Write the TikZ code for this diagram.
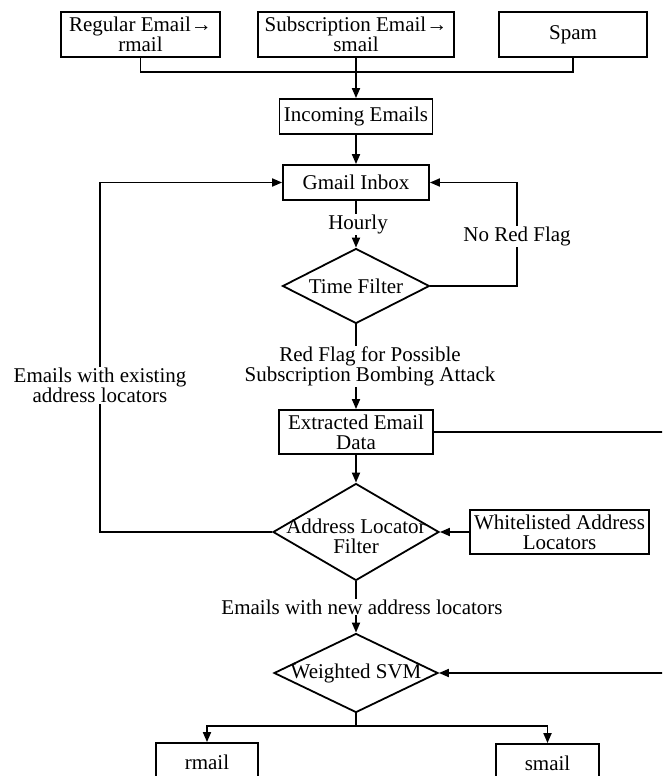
\documentclass[tikz,border=0pt]{standalone}
\usepackage{fontspec}
\setmainfont{Liberation Serif}
\usetikzlibrary{shapes.geometric,arrows.meta}
\tikzset{
	box/.style 2 args={draw,line width=1.8pt,minimum width=#1,minimum height=#2,inner sep=2pt,align=center},
	decision/.style 2 args={diamond,draw,line width=1.8pt,minimum width=#1,minimum height=#2,inner sep=0pt},
	lbl/.style={fill=white,align=center,inner sep=1pt},
	flow/.style={line width=1.8pt,-{Triangle[length=10pt,width=8pt]}}
}

\begin{document}
\begin{tikzpicture}[x=1pt,y=-1pt,font=\fontsize{21}{20}\selectfont,line width=1.8pt]
	\useasboundingbox (0,0) rectangle (662,776);
	\clip (0,0) rectangle (662,776);

	% sources
	\node [box={159pt}{45pt}] (regular) at (140.5,34.5) {Regular Email→\\rmail};
	\node [box={196pt}{45pt}] (subscription) at (356,34.5) {Subscription Email→\\smail};
	\node [box={148pt}{45pt}] (spam) at (573,34.5) {Spam};

	% main column
	\node [box={153pt}{35pt}] (incoming) at (356,116.5) {Incoming Emails};
	\node [box={146pt}{35pt}] (gmail) at (356,182.5) {Gmail Inbox};
	\node [decision={147pt}{75pt},label={center:Time Filter}] (timefilter) at (356,286) {};
	\node [box={154pt}{44pt}] (extracted) at (356,432) {Extracted Email\\Data};
	\node [decision={166pt}{97pt},label={[align=center,yshift=-4pt]center:Address Locator\\Filter}] (address) at (356,532) {};
	\node [box={179pt}{44pt}] (whitelist) at (559.5,532) {Whitelisted Address\\Locators};
	\node [decision={164pt}{79pt},label={center:Weighted SVM}] (svm) at (356,673) {};
	\node [box={102pt}{38pt}] (rmail) at (207,762) {rmail};
	\node [box={103pt}{38pt}] (smail) at (547.5,763) {smail};

	\coordinate (join) at (356,72);
	\coordinate (split) at (356,726);
	\coordinate (loopL) at (100,0);
	\coordinate (loopR) at (517,0);
	\coordinate (loopRR) at (700,0);

	\draw (regular.south) |- (join) -| (spam.south);
	\draw [flow] (subscription.south) -- (incoming.north);
	\draw [flow] (incoming) -- (gmail);
	\draw [flow] (gmail) -- node [lbl,xshift=2pt] {Hourly} (timefilter);
	\draw [flow] (timefilter.east) -| node [lbl,pos=0.74] {No Red Flag} (gmail.east -| loopR) -- (gmail.east);
	\draw [flow] (timefilter.south) -- node [lbl,xshift=14pt] {Red Flag for Possible\\Subscription Bombing Attack} (extracted.north);
	\draw [flow] (extracted.south) -- (address.north);
	\draw [flow] (whitelist.west) -- (address.east);
	\draw [flow] (address.west) -| node [lbl,pos=0.71] {Emails with existing\\address locators} (gmail.west -| loopL) -- (gmail.west);
	\draw [flow] (address.south) -- node [lbl,xshift=6pt] {Emails with new address locators} (svm.north);
	\draw [flow] (extracted.east) -| (svm.east -| loopRR) -- (svm.east);
	\draw (svm.south) -- (split);
	\draw [flow] (split) -| (rmail.north);
	\draw [flow] (split) -| (smail.north);
\end{tikzpicture}
\end{document}
